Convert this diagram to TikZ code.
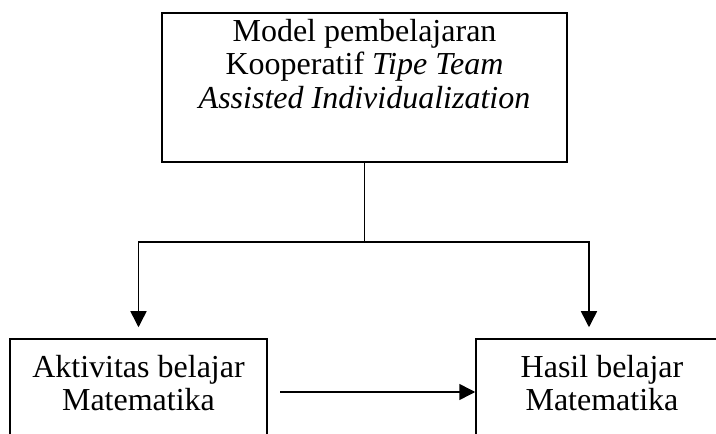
\documentclass[tikz,border=0pt]{standalone}
\usepackage{fontspec}
\setmainfont{Liberation Serif}
\usetikzlibrary{arrows.meta,positioning}

\tikzset{
  box/.style={draw,line width=1.5pt,rectangle,inner sep=0pt},
  lbl/.style={align=center,inner sep=0pt,font=\fontsize{32}{33.5}\selectfont},
  arr/.style={-{Triangle[length=16pt,width=16pt]}},
}

\begin{document}
\begin{tikzpicture}[x=1pt,y=1pt,line width=1.5pt]
    \useasboundingbox (0,0) rectangle (716,434);
    \clip (0,0) rectangle (716,434);
    % boxes
    \node[box,minimum width=405pt,minimum height=149pt] (model) at (364.5,346.5) {};
    \node[box,minimum width=257pt,minimum height=130pt] (aktivitas) at (138.5,30) {};
    \node[box,minimum width=252pt,minimum height=130pt] (hasil) at (602,30) {};

    \node[lbl,anchor=north,below=6pt of model.north] (modeltxt)
        {Model pembelajaran\\Kooperatif \textit{Tipe Team}\\\textit{Assisted Individualization}};
    \node[lbl,anchor=north,below=16pt of aktivitas.north] (aktivitastxt)
        {Aktivitas belajar\\Matematika};
    \node[lbl,anchor=north,below=16pt of hasil.north] (hasiltxt)
        {Hasil belajar\\Matematika};

    % connectors
    \coordinate (split) at (model.south |- 0,192);
    \coordinate (start) at (280,42);
    \draw (model.south) -- (split);
    \draw[arr] (split) -| ([yshift=11pt]aktivitas.north);
    \draw[arr] (split) -| ([xshift=-13pt,yshift=11pt]hasil.north);
    \draw[arr] (start) -- (start -| hasil.west);
\end{tikzpicture}
\end{document}
